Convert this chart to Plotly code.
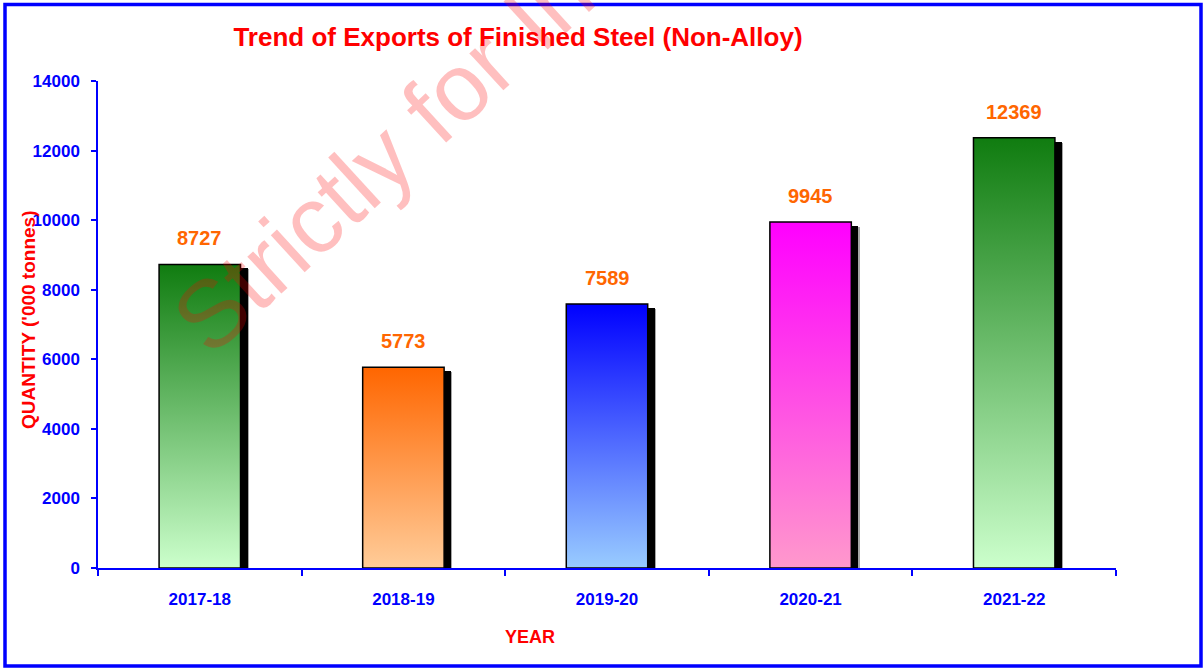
import plotly.graph_objects as go

# ---- data ----
years = ["2017-18", "2018-19", "2019-20", "2020-21", "2021-22"]
quantity = [8727, 5773, 7589, 9945, 12369]
top_colors = ["#107C10", "#FF6600", "#0000FF", "#FF00FF", "#107C10"]
bottom_colors = ["#CCFFCC", "#FFCC99", "#99CCFF", "#FF99CC", "#CCFFCC"]
y_ticks = [0, 2000, 4000, 6000, 8000, 10000, 12000, 14000]

# ---- geometry (pixels) ----
W, H = 1204, 669
L, R, T, B = 98, 1116, 81, 568
PW, PH = R - L, B - T
YMAX = 14000
BAR_W = 0.40
SH_DX = 7 / (PW / 5)          # shadow offset in x units
SH_DY = 4 * YMAX / PH         # shadow offset in y units


def px(x):
    return (x - L) / PW


def py(y):
    return (B - y) / PH


FONT = "Liberation Sans, Arial, sans-serif"
BLUE = "#0000FF"

fig = go.Figure()

xs = list(range(len(years)))

# soft gray fringe of shadow
fig.add_trace(go.Bar(
    x=[i + SH_DX + 0.006 for i in xs],
    y=[v - SH_DY - 30 for v in quantity],
    width=BAR_W, marker=dict(color="rgba(0,0,0,0.35)", line=dict(width=0)),
    hoverinfo="skip", showlegend=False))
# shadow
fig.add_trace(go.Bar(
    x=[i + SH_DX for i in xs],
    y=[v - SH_DY for v in quantity],
    width=BAR_W, marker=dict(color="black", line=dict(width=0)),
    hoverinfo="skip", showlegend=False))

# gradient bars
for i, v, tc, bc in zip(xs, quantity, top_colors, bottom_colors):
    x0, x1 = i - BAR_W / 2, i + BAR_W / 2
    fig.add_trace(go.Scatter(
        x=[x0, x1, x1, x0, x0], y=[0, 0, v, v, 0],
        mode="lines", fill="toself",
        fillgradient=dict(type="vertical", colorscale=[[0, bc], [1, tc]]),
        line=dict(color="black", width=1.5),
        hoverinfo="skip", showlegend=False))

# data labels
for i, v in zip(xs, quantity):
    fig.add_annotation(x=i, y=v, xref="x", yref="y", text=f"<b>{v}</b>",
                       showarrow=False, yanchor="bottom", yshift=13,
                       font=dict(family=FONT, size=20, color="#FF6600"))

# axis titles
fig.add_annotation(x=px(28), y=py(320), xref="paper", yref="paper",
                   text="<b>QUANTITY ('000 tonnes)</b>", textangle=-90,
                   showarrow=False, xanchor="center", yanchor="middle",
                   font=dict(family=FONT, size=19, color="#FF0000"))
fig.add_annotation(x=px(530), y=py(637), xref="paper", yref="paper",
                   text="<b>YEAR</b>", showarrow=False,
                   xanchor="center", yanchor="middle",
                   font=dict(family=FONT, size=18, color="#FF0000"))

# watermark
fig.add_annotation(x=px(542), y=py(10), xref="paper", yref="paper",
                   text="Strictly for Internal Use", textangle=-42.5,
                   showarrow=False, xanchor="center", yanchor="middle",
                   font=dict(family=FONT, size=95, color="rgba(255,0,0,0.25)"))

# border
fig.add_shape(type="rect", xref="paper", yref="paper",
              x0=px(5), x1=px(1201), y0=py(666), y1=py(4.5),
              line=dict(color=BLUE, width=3.5), fillcolor="rgba(0,0,0,0)")

fig.update_layout(
    width=W, height=H,
    margin=dict(l=L, r=W - R, t=T, b=H - B),
    paper_bgcolor="white", plot_bgcolor="white",
    barmode="overlay", bargap=0,
    showlegend=False,
    title=dict(text="<b>Trend of Exports of Finished Steel (Non-Alloy)</b>",
               x=px(518), xref="paper", xanchor="center",
               y=1 - 37 / H, yref="container", yanchor="middle",
               font=dict(family=FONT, size=26, color="#FF0000")),
    xaxis=dict(range=[-0.5, 4.5], tickvals=xs,
               ticktext=[f"<b>{y}</b>" for y in years],
               ticks="", showgrid=False, zeroline=False,
               showline=True, linecolor=BLUE, linewidth=2,
               tickfont=dict(family=FONT, size=17, color=BLUE),
               ticklabelstandoff=15,
               minor=dict(tickmode="linear", tick0=-0.5, dtick=1,
                          ticks="outside", ticklen=6, tickcolor=BLUE,
                          tickwidth=1.5, showgrid=False)),
    yaxis=dict(range=[0, YMAX], tickvals=y_ticks,
               ticktext=[f"<b>{t}</b>" for t in y_ticks],
               ticks="outside",
               ticklen=5, tickcolor=BLUE, tickwidth=1.5,
               showgrid=False, zeroline=False,
               showline=True, linecolor=BLUE, linewidth=1.5,
               tickfont=dict(family=FONT, size=17, color=BLUE),
               ticklabelstandoff=8),
)

fig.write_html("out.html",
               config={"displayModeBar": False},
               post_script="document.body.style.margin='0';"
                           "document.body.style.overflow='hidden';")
